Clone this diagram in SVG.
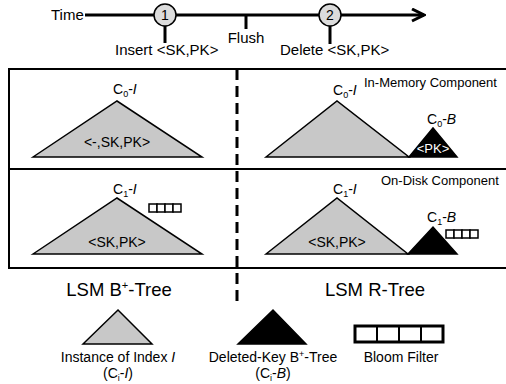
<svg xmlns="http://www.w3.org/2000/svg" width="506" height="384" viewBox="0 0 506 384">
<style>
text{font-family:"Liberation Sans",Arial,sans-serif;fill:#000}
.tl{font-size:15px}
.lb{font-size:14px}
.cmp{font-size:13px}
.big{font-size:18.5px}
.gt{fill:#c8c8c8;stroke:#000;stroke-width:1.5;stroke-linejoin:miter}
.bt{fill:#000;stroke:#000;stroke-width:1.5}
.thick{stroke:#000;stroke-width:3;fill:none}
.bf{fill:#fff;stroke:#000;stroke-width:1.5}
</style>
<defs>
<marker id="arr" viewBox="0 0 10 10" refX="9" refY="5" markerWidth="5" markerHeight="5" orient="auto" markerUnits="strokeWidth">
<path d="M1,1 L9,5 L1,9" fill="none" stroke="#000" stroke-width="2"/>
</marker>
</defs>
<g id="timeline">
<text class="tl" x="51" y="20">Time</text>
<line class="thick" x1="85" y1="15" x2="424" y2="15" marker-end="url(#arr)"/>
<line class="thick" x1="165" y1="26" x2="165" y2="43"/>
<line class="thick" x1="246" y1="15" x2="246" y2="29"/>
<line class="thick" x1="330" y1="26" x2="330" y2="44"/>
<circle cx="165" cy="15" r="11" fill="#dcdcdc" stroke="#000" stroke-width="1.5"/>
<circle cx="330" cy="15" r="11" fill="#dcdcdc" stroke="#000" stroke-width="1.5"/>
<text class="lb" x="165" y="20" text-anchor="middle">1</text>
<text class="lb" x="330" y="20" text-anchor="middle">2</text>
<text class="tl" x="115" y="55">Insert &lt;SK,PK&gt;</text>
<text class="tl" x="246" y="43" text-anchor="middle">Flush</text>
<text class="tl" x="280" y="55">Delete &lt;SK,PK&gt;</text>
</g>
<g id="frame">
<rect x="9" y="69" width="510" height="199" fill="none" stroke="#000" stroke-width="2"/>
<line x1="9" y1="169" x2="506" y2="169" stroke="#000" stroke-width="2"/>
</g>
<g id="connectors">
<line x1="237" y1="69" x2="237" y2="303" stroke="#000" stroke-width="3" stroke-dasharray="11,6"/>
</g>
<g id="b-c0">
<polygon class="gt" points="33,157 117,101 202,157"/>
<text class="lb" x="113" y="94">C<tspan font-size="9" dy="3">0</tspan><tspan dy="-3">-</tspan><tspan font-style="italic">I</tspan></text>
<text class="lb" x="117" y="147" text-anchor="middle">&lt;-,SK,PK&gt;</text>
</g>
<g id="b-c1">
<polygon class="gt" points="33,254 117,198 202,254"/>
<text class="lb" x="113" y="194">C<tspan font-size="9" dy="3">1</tspan><tspan dy="-3">-</tspan><tspan font-style="italic">I</tspan></text>
<text class="lb" x="117" y="247" text-anchor="middle">&lt;SK,PK&gt;</text>
<g class="bf">
<rect x="149" y="204" width="8" height="8"/><rect x="157" y="204" width="8" height="8"/><rect x="165" y="204" width="8" height="8"/><rect x="173" y="204" width="8" height="8"/>
</g>
</g>
<g id="r-c0">
<text class="cmp" x="364" y="87">In-Memory Component</text>
<polygon class="gt" points="266,157 337,101 409,157"/>
<text class="lb" x="333" y="95">C<tspan font-size="9" dy="3">0</tspan><tspan dy="-3">-</tspan><tspan font-style="italic">I</tspan></text>
<polygon class="bt" points="409,157 433,128 457,157"/>
<text class="lb" x="427" y="124">C<tspan font-size="9" dy="3">0</tspan><tspan dy="-3">-</tspan><tspan font-style="italic">B</tspan></text>
<text x="433" y="153" text-anchor="middle" font-size="13" style="fill:#fff">&lt;PK&gt;</text>
</g>
<g id="r-c1">
<text class="cmp" x="381" y="185">On-Disk Component</text>
<polygon class="gt" points="266,254 337,198 408,254"/>
<text class="lb" x="333" y="194">C<tspan font-size="9" dy="3">1</tspan><tspan dy="-3">-</tspan><tspan font-style="italic">I</tspan></text>
<text class="lb" x="337" y="247" text-anchor="middle">&lt;SK,PK&gt;</text>
<polygon class="bt" points="408,254 433,227 457,254"/>
<text class="lb" x="427" y="222">C<tspan font-size="9" dy="3">1</tspan><tspan dy="-3">-</tspan><tspan font-style="italic">B</tspan></text>
<g class="bf">
<rect x="446" y="230" width="8" height="8"/><rect x="454" y="230" width="8" height="8"/><rect x="462" y="230" width="8" height="8"/><rect x="470" y="230" width="8" height="8"/>
</g>
</g>
<g id="titles">
<text class="big" x="119" y="296" text-anchor="middle">LSM B<tspan font-size="11" dy="-7">+</tspan><tspan dy="7">-Tree</tspan></text>
<text class="big" x="375" y="296" text-anchor="middle">LSM R-Tree</text>
</g>
<g id="legend-index">
<polygon class="gt" points="83,344 118,310 152,344"/>
<text class="lb" x="118" y="362" text-anchor="middle">Instance of Index <tspan font-style="italic">I</tspan></text>
<text class="lb" x="118" y="378" text-anchor="middle">(C<tspan font-size="9" dy="3">i</tspan><tspan dy="-3">-</tspan><tspan font-style="italic">I</tspan>)</text>
</g>
<g id="legend-deleted">
<polygon class="bt" points="238,344 273,310 306,344"/>
<text class="lb" x="273" y="362" text-anchor="middle">Deleted-Key B<tspan font-size="9" dy="-5">+</tspan><tspan dy="5">-Tree</tspan></text>
<text class="lb" x="273" y="378" text-anchor="middle">(C<tspan font-size="9" dy="3">i</tspan><tspan dy="-3">-</tspan><tspan font-style="italic">B</tspan>)</text>
</g>
<g id="legend-bloom">
<rect x="355" y="326" width="88" height="16" fill="#fff" stroke="#000" stroke-width="3"/>
<line x1="377" y1="326" x2="377" y2="342" stroke="#000" stroke-width="2"/>
<line x1="399" y1="326" x2="399" y2="342" stroke="#000" stroke-width="2"/>
<line x1="421" y1="326" x2="421" y2="342" stroke="#000" stroke-width="2"/>
<text class="lb" x="401" y="362" text-anchor="middle">Bloom Filter</text>
</g>
</svg>
